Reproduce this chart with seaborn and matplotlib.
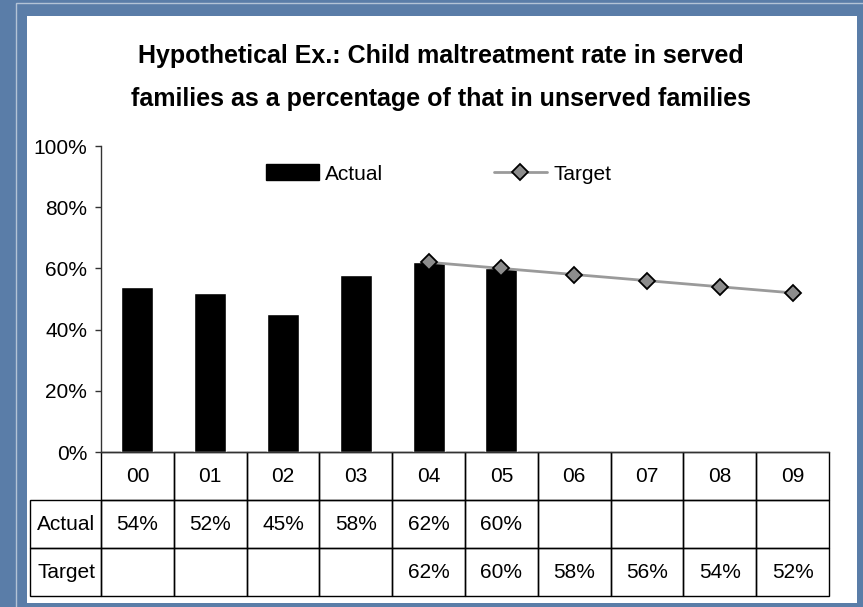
import matplotlib
matplotlib.use('Agg')
import matplotlib.pyplot as plt
import seaborn as sns
import pandas as pd
from matplotlib.patches import Rectangle, Patch
from matplotlib.lines import Line2D

# Dữ liệu
years = ['00', '01', '02', '03', '04', '05', '06', '07', '08', '09']
actual_years = ['00', '01', '02', '03', '04', '05']
actual = [0.54, 0.52, 0.45, 0.58, 0.62, 0.60]
target_years = ['04', '05', '06', '07', '08', '09']
target = [0.62, 0.60, 0.58, 0.56, 0.54, 0.52]
row_labels = ['Actual', 'Target']
title_lines = ['Hypothetical Ex.: Child maltreatment rate in served',
               'families as a percentage of that in unserved families']

df_actual = pd.DataFrame({'year': actual_years, 'value': actual})
df_target = pd.DataFrame({'year': target_years, 'value': target})

sns.set_style('white')
plt.rcParams['font.family'] = ['Liberation Sans', 'DejaVu Sans']
plt.rcParams['text.color'] = 'black'
plt.rcParams['ytick.labelcolor'] = 'black'

W, H = 863, 607
fig = plt.figure(figsize=(W / 100, H / 100), dpi=100)
fig.patch.set_facecolor('#5a7da8')

# khung nền trắng kiểu PowerPoint
fig.patches.append(Rectangle((16 / W, -0.1), 1, 1.1 - 3 / H, transform=fig.transFigure,
                             facecolor='none', edgecolor='#b3c3d6', lw=1, zorder=-10))
fig.patches.append(Rectangle((27 / W, 1 - 603 / H), 830 / W, 587 / H, transform=fig.transFigure,
                             facecolor='white', edgecolor='none', zorder=-9))

ax = fig.add_axes([101 / W, 1 - 452 / H, 728 / W, 306 / H])
ax.set_zorder(2)
ax.set_facecolor('none')

sns.barplot(data=df_actual, x='year', y='value', order=years, color='black',
            width=0.44, saturation=1, ax=ax)
sns.pointplot(data=df_target, x='year', y='value', order=years, color='#9a9a9a',
              markers='D', errorbar=None, ax=ax, linewidth=2,
              markersize=8, markerfacecolor='#8c8c8c', markeredgecolor='black',
              markeredgewidth=1.3)

ax.set_ylim(0, 1)
ax.set_xlim(-0.5, 9.5)
ax.set_yticks([0, 0.2, 0.4, 0.6, 0.8, 1.0])
ax.set_yticklabels(['0%', '20%', '40%', '60%', '80%', '100%'], fontsize=15)
ax.tick_params(axis='y', direction='out', length=4, width=1, color='#333333', pad=6, left=True)
ax.tick_params(axis='x', bottom=False, labelbottom=False)
ax.set_xlabel('')
ax.set_ylabel('')
for s in ['top', 'right']:
    ax.spines[s].set_visible(False)
for s in ['left', 'bottom']:
    ax.spines[s].set_color('#333333')
    ax.spines[s].set_linewidth(1)

# bảng dữ liệu bên dưới
actual_txt = {y: f'{int(round(v * 100))}%' for y, v in zip(actual_years, actual)}
target_txt = {y: f'{int(round(v * 100))}%' for y, v in zip(target_years, target)}
cell_text = [[''] + years,
             ['Actual'] + [actual_txt.get(y, '') for y in years],
             ['Target'] + [target_txt.get(y, '') for y in years]]
lw = 71 / 728
tbl = ax.table(cellText=cell_text, colWidths=[lw] + [0.1] * 10,
               bbox=[-lw, -144 / 306, 1 + lw, 144 / 306], cellLoc='center')
tbl.auto_set_font_size(False)
tbl.set_fontsize(15)
for (r, c), cell in tbl.get_celld().items():
    cell.set_edgecolor('black')
    cell.set_linewidth(1)
    cell.set_facecolor('none')
    if r == 0 and c == 0:
        cell.visible_edges = ''
    if c == 0:
        cell.get_text().set_ha('left')
        cell.PAD = 0.1

# chú thích
handles = [Patch(facecolor='black', edgecolor='black'),
           Line2D([0], [0], color='#9a9a9a', lw=2, marker='D', markersize=8,
                  markerfacecolor='#8c8c8c', markeredgecolor='black', markeredgewidth=1.3)]
fig.legend(handles, row_labels, loc='center left', bbox_to_anchor=(266 / W, 1 - 174 / H),
           ncol=2, frameon=False, fontsize=15, borderpad=0, borderaxespad=0,
           handlelength=2.55, handleheight=0.77, handletextpad=0.3, columnspacing=5.3)

# tiêu đề
fig.text(441 / W, 1 - 63 / H, title_lines[0], ha='center', va='baseline', fontsize=18,
         fontweight='bold')
fig.text(441 / W, 1 - 106 / H, title_lines[1], ha='center', va='baseline', fontsize=18,
         fontweight='bold')

fig.savefig('out.png', dpi=100, facecolor=fig.get_facecolor())
